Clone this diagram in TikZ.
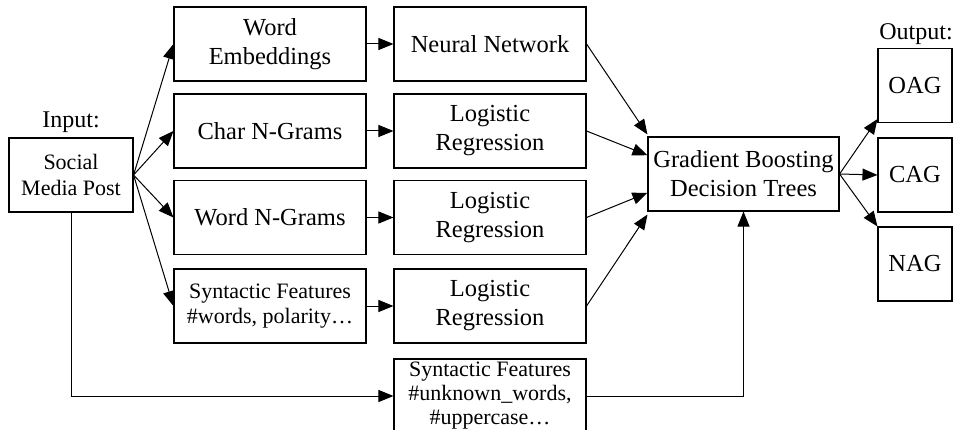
\documentclass[tikz,border=0pt]{standalone}
\usepackage{fontspec}
\setmainfont{Liberation Serif}
\usetikzlibrary{arrows.meta,calc}

\tikzset{
  box/.style={draw, line width=1.1pt, rectangle, inner sep=0pt, align=center,
    minimum height=74pt, font=\fontsize{24.5}{29}\selectfont},
  smallbox/.style={box, font=\fontsize{22}{25.5}\selectfont},
  colbox/.style={box, minimum width=192pt},
  outbox/.style={box, minimum width=74pt},
  conn/.style={line width=1pt, -{Triangle[length=15pt,width=12pt]}},
  label/.style={anchor=base, inner sep=0pt, font=\fontsize{24}{28}\selectfont}
}

\begin{document}
\begin{tikzpicture}[x=1pt,y=-1pt]
  \useasboundingbox (0,0) rectangle (957,430);

  % input
  \node[smallbox, minimum width=124pt] (S) at (71,175) {Social\\Media Post};
  \node[label] (inlab) at (71,128) {Input:};

  % feature extraction column
  \node[colbox] (WE) at (270,44) {Word\\Embeddings};
  \node[colbox] (CN) at (270,131) {Char N-Grams};
  \node[colbox] (WN) at (270,217.5) {Word N-Grams};
  \node[colbox, smallbox] (SF) at (270,306) {Syntactic Features\\\#words, polarity…};

  % classifier column
  \node[colbox] (NN) at (490,44) {Neural Network};
  \node[colbox] (LR1) at (490,131) {Logistic\\Regression};
  \node[colbox] (LR2) at (490,217.5) {Logistic\\Regression};
  \node[colbox] (LR3) at (490,306) {Logistic\\Regression};
  \node[colbox, smallbox, font=\fontsize{22}{24}\selectfont] (SB) at (490,396)
    {Syntactic Features\\\#unknown\_words,\\\#uppercase…};

  % ensemble
  \node[box, minimum width=191pt] (G) at (743.5,174) {Gradient Boosting\\Decision Trees};

  % outputs
  \node[outbox] (OAG) at (915,85.5) {OAG};
  \node[outbox] (CAG) at (915,175) {CAG};
  \node[outbox] (NAG) at (915,264) {NAG};
  \node[label] (outlab) at (916,40) {Output:};

  % input to features
  \draw[conn] (S.east) -- (WE.west);
  \draw[conn] (S.east) -- (CN.west);
  \draw[conn] (S.east) -- (WN.west);
  \draw[conn] (S.east) -- (SF.west);

  % features to classifiers
  \draw[conn] (WE.east) -- (NN.west);
  \draw[conn] (CN.east) -- (LR1.west);
  \draw[conn] (WN.east) -- (LR2.west);
  \draw[conn] (SF.east) -- (LR3.west);

  % classifiers to ensemble
  \draw[conn] (NN.east) -- ($(G.north west)+(0,-2)$);
  \draw[conn] (LR1.east) -- ($(G.north west)!0.25!(G.south west)$);
  \draw[conn] (LR2.east) -- ($(G.north west)!0.75!(G.south west)$);
  \draw[conn] (LR3.east) -- ($(G.south west)+(0,3)$);

  % direct syntactic features path
  \draw[conn] (S.south) |- (SB.west);
  \draw[conn] (SB.east) -| (G.south);

  % ensemble to outputs
  \draw[conn] (G.east) -- ($(OAG.south west)+(0,-4)$);
  \draw[conn] (G.east) -- (CAG.west);
  \draw[conn] (G.east) -- (NAG.north west);
\end{tikzpicture}
\end{document}
